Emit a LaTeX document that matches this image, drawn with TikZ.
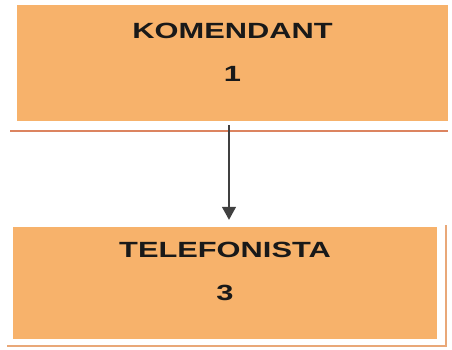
\documentclass[tikz,border=0pt]{standalone}
\usepackage{fontspec}
\setmainfont{Liberation Sans}
\usetikzlibrary{positioning,arrows.meta}
\newcommand{\wide}[1]{\scalebox{1.4}[1]{#1}}
\begin{document}
\begin{tikzpicture}[x=1pt,y=-1pt]
  % Colors
  \definecolor{boxorange}{HTML}{F7B26B}
  \definecolor{ruleline}{HTML}{DC8460}
  \definecolor{edgeline}{HTML}{E9A878}

  % Styles
  \tikzset{
    post/.style={fill=boxorange,draw=none,rectangle},
    lbl/.style={inner sep=0pt,align=center,anchor=north,
      font=\fontsize{22}{43}\selectfont\bfseries,text=black!90},
    link/.style={draw=black!75,line width=1.3pt,
      -{Triangle[width=14pt,length=13pt]}}
  }

  \useasboundingbox (0,0) rectangle (452,350);

  % The boxes
  \node[post,minimum width=431pt,minimum height=116pt] (kom) at (232.5,63) {};
  \node[lbl,below=18pt of kom.north] (komtxt) {\wide{KOMENDANT}\\\wide{1}};
  \draw[ruleline,line width=2pt] (10,131) -- (448,131);

  \node[post,minimum width=424pt,minimum height=112pt] (tel) at (225,283) {};
  \node[lbl,below=15pt of tel.north] (teltxt) {\wide{TELEFONISTA}\\\wide{3}};
  \draw[edgeline,line width=1.5pt] (446,225) -- (446,346) -- (7,346);

  % The link
  \draw[link,shorten <=4pt,shorten >=7pt] (kom.south -| 229,0) -- (tel.north -| 229,0);
\end{tikzpicture}
\end{document}
